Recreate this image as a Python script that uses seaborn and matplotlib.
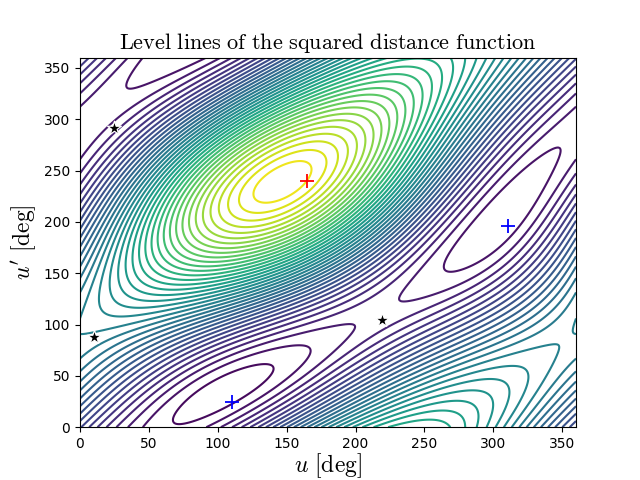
import numpy as np
import matplotlib
matplotlib.use("Agg")
import matplotlib.pyplot as plt
import seaborn as sns
import pandas as pd

# orbit parameters (a, e) and relative orientation (deg)
orbit1 = [1.0, 0.2]
orbit2 = [1.05, 0.3]
incl_deg = 35.0
omega_deg = 100.0
phase_shift = [28.0, 42.0]
n_levels = 40

# critical points
max_u, max_up = [165], [240]
min_u, min_up = [110, 311], [25, 196]
sad_u, sad_up = [25, 10, 219], [291, 88, 104]

u = np.linspace(0, 360, 400)
U, UP = np.meshgrid(u, u)
ur, upr = np.radians(U - phase_shift[0]), np.radians(UP - phase_shift[1])
a1, e1 = orbit1
a2, e2 = orbit2
x1 = a1 * (np.cos(ur) - e1); y1 = a1 * np.sqrt(1 - e1**2) * np.sin(ur); z1 = 0 * ur
xp = a2 * (np.cos(upr) - e2); yp = a2 * np.sqrt(1 - e2**2) * np.sin(upr)
w, inc = np.radians(omega_deg), np.radians(incl_deg)
x2 = np.cos(w) * xp - np.sin(w) * np.cos(inc) * yp
y2 = np.sin(w) * xp + np.cos(w) * np.cos(inc) * yp
z2 = np.sin(inc) * yp
D = (x1 - x2)**2 + (y1 - y2)**2 + (z1 - z2)**2

plt.rcParams["mathtext.fontset"] = "cm"
fig, ax = plt.subplots(figsize=(6.4, 4.8), dpi=100)
fig.subplots_adjust(left=0.125, right=0.9, top=0.88, bottom=0.11)
ax.contour(U, UP, D, levels=n_levels, cmap="viridis")
pts = pd.DataFrame({"u": max_u + min_u + sad_u, "up": max_up + min_up + sad_up,
                    "k": ["max"] + ["min"] * 2 + ["sad"] * 3})
sns.scatterplot(data=pts[pts.k == "max"], x="u", y="up", marker="+", color="red", s=100, linewidth=1.3, ax=ax, zorder=5)
sns.scatterplot(data=pts[pts.k == "min"], x="u", y="up", marker="+", color="blue", s=100, linewidth=1.3, ax=ax, zorder=5)
sns.scatterplot(data=pts[pts.k == "sad"], x="u", y="up", marker="*", color="black", s=110, ax=ax, zorder=5)
ax.set_xlim(0, 360); ax.set_ylim(0, 360)
ax.set_xticks(range(0, 351, 50)); ax.set_yticks(range(0, 351, 50))
ax.set_xlabel(r"$u\ \mathrm{[deg]}$", fontsize=17, labelpad=0)
ax.set_ylabel(r"$u'\ \mathrm{[deg]}$", fontsize=17)
ax.set_title(r"$\mathrm{Level\ lines\ of\ the\ squared\ distance\ function}$", fontsize=16)
fig.savefig("out.png", dpi=100)
